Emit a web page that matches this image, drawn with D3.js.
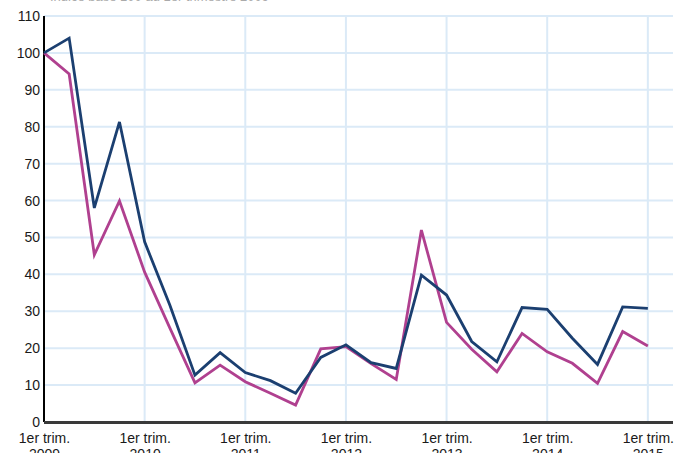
<!DOCTYPE html>
<html><head><meta charset="utf-8">
<script src="https://cdn.jsdelivr.net/npm/d3@7"></script>
<style>
html,body{margin:0;padding:0;background:#fff;overflow:hidden}
text{font-family:"Liberation Sans",Arial,sans-serif}
</style></head>
<body><svg id="c" width="686" height="453"></svg>
<script>
const quarters = d3.range(25); // 1er trim. 2009 ... 1er trim. 2015
const years = ["2009","2010","2011","2012","2013","2014","2015"];
const yTicks = [0,10,20,30,40,50,60,70,80,90,100,110];
const seriesBlue = [100,104,58,81.3,48.8,31.7,12.7,18.8,13.4,11.2,7.8,17.5,20.9,16.1,14.5,39.8,34.4,21.8,16.3,31,30.5,22.7,15.6,31.2,30.8];
const seriesMagenta = [100,94.3,45.3,59.9,40.6,25.5,10.6,15.4,10.9,7.8,4.6,19.8,20.4,15.8,11.5,52,27,19.7,13.6,24,19,15.9,10.5,24.5,20.6];
const subtitle = "Indice base 100 au 1er trimestre 2009";

const svg = d3.select("#c");
const L = 44, R = 673, T = 16, B = 422;
const x = d3.scaleLinear().domain([0,25]).range([L, L + 25*25.16]);
const y = d3.scaleLinear().domain([0,110]).range([B, T]);

svg.append("text").attr("x",50).attr("y",0.5).attr("fill","#aaa").attr("font-size",13).text(subtitle);

// grid
const g = svg.append("g");
g.selectAll(".h").data(yTicks.filter(d=>d>0)).join("line")
  .attr("x1",L).attr("x2",R).attr("y1",d=>y(d)).attr("y2",d=>y(d))
  .attr("stroke","#dbeaf7").attr("stroke-width",2);
g.selectAll(".v").data(years.map((d,i)=>i*4).filter(d=>d>0)).join("line")
  .attr("x1",d=>x(d)).attr("x2",d=>x(d)).attr("y1",T).attr("y2",B)
  .attr("stroke","#dbeaf7").attr("stroke-width",2);

// y axis
const ya = svg.append("g").attr("transform",`translate(${L},0)`).call(d3.axisLeft(y).tickValues(yTicks).tickSize(0).tickPadding(4));
ya.select(".domain").remove();
ya.selectAll("text").attr("font-size",14).attr("fill","#1a1a1a").style("font-family","'Liberation Sans',Arial,sans-serif");
svg.append("line").attr("x1",L).attr("x2",L).attr("y1",T).attr("y2",B).attr("stroke","#000").attr("stroke-width",2);

// x axis
const xa = svg.append("g").attr("transform",`translate(0,${B})`)
  .call(d3.axisBottom(x).tickValues(years.map((d,i)=>i*4)).tickSize(0).tickFormat(""));
xa.select(".domain").remove();
xa.selectAll(".tick").each(function(d,i){
  const t = d3.select(this).append("text").attr("fill","#1a1a1a").attr("font-size",14).attr("text-anchor","middle");
  t.append("tspan").attr("x",0).attr("y",21).text("1er trim.");
  t.append("tspan").attr("x",0).attr("y",37).text(years[i]);
});
svg.append("line").attr("x1",L).attr("x2",R).attr("y1",B+0.5).attr("y2",B+0.5).attr("stroke","#3a3a3a").attr("stroke-width",3);

const line = d3.line().x((d,i)=>x(quarters[i])).y(d=>y(d));
svg.append("path").datum(seriesMagenta).attr("d",line).attr("fill","none").attr("stroke","#b0408f").attr("stroke-width",2.8).attr("stroke-linejoin","miter");
svg.append("path").datum(seriesBlue).attr("d",line).attr("fill","none").attr("stroke","#1b3f70").attr("stroke-width",2.8).attr("stroke-linejoin","miter");
</script></body></html>
